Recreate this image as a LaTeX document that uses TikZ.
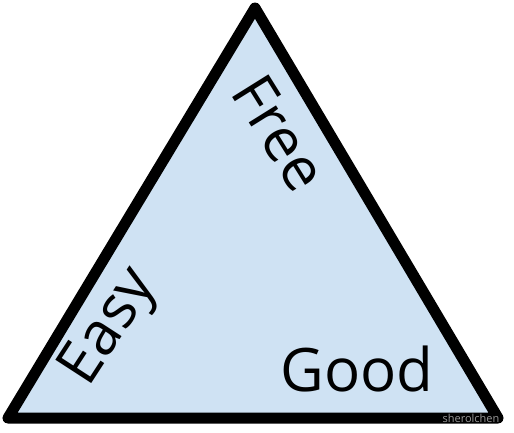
\documentclass[tikz,border=0pt]{standalone}
\usepackage{fontspec}
\setmainfont{Open Sans}
\definecolor{triblue}{HTML}{CFE2F3}
\definecolor{wmgrey}{HTML}{9A9A9A}
\begin{document}
\begin{tikzpicture}[x=1pt,y=-1pt,
  lbl/.style={font=\fontsize{60}{64}\selectfont, text=black, inner sep=0pt},
  wm/.style={font=\fontsize{11}{12}\selectfont, text=wmgrey, inner sep=0pt}]
\useasboundingbox (0,0) rectangle (514,432);
\coordinate (top) at (255,8);
\coordinate (bl) at (8,418);
\coordinate (br) at (498,418);
\draw[line width=11pt, line join=round, fill=triblue] (top) -- (br) -- (bl) -- cycle;
\node[lbl, rotate=-58] (free) at (280,133) {Free};
\node[lbl, rotate=57] (easy) at (111,328) {Easy};
\node[lbl] (good) at (357,369) {Good};
\node[wm] (wmark) at (471,418) {sherolchen};
\end{tikzpicture}
\end{document}
